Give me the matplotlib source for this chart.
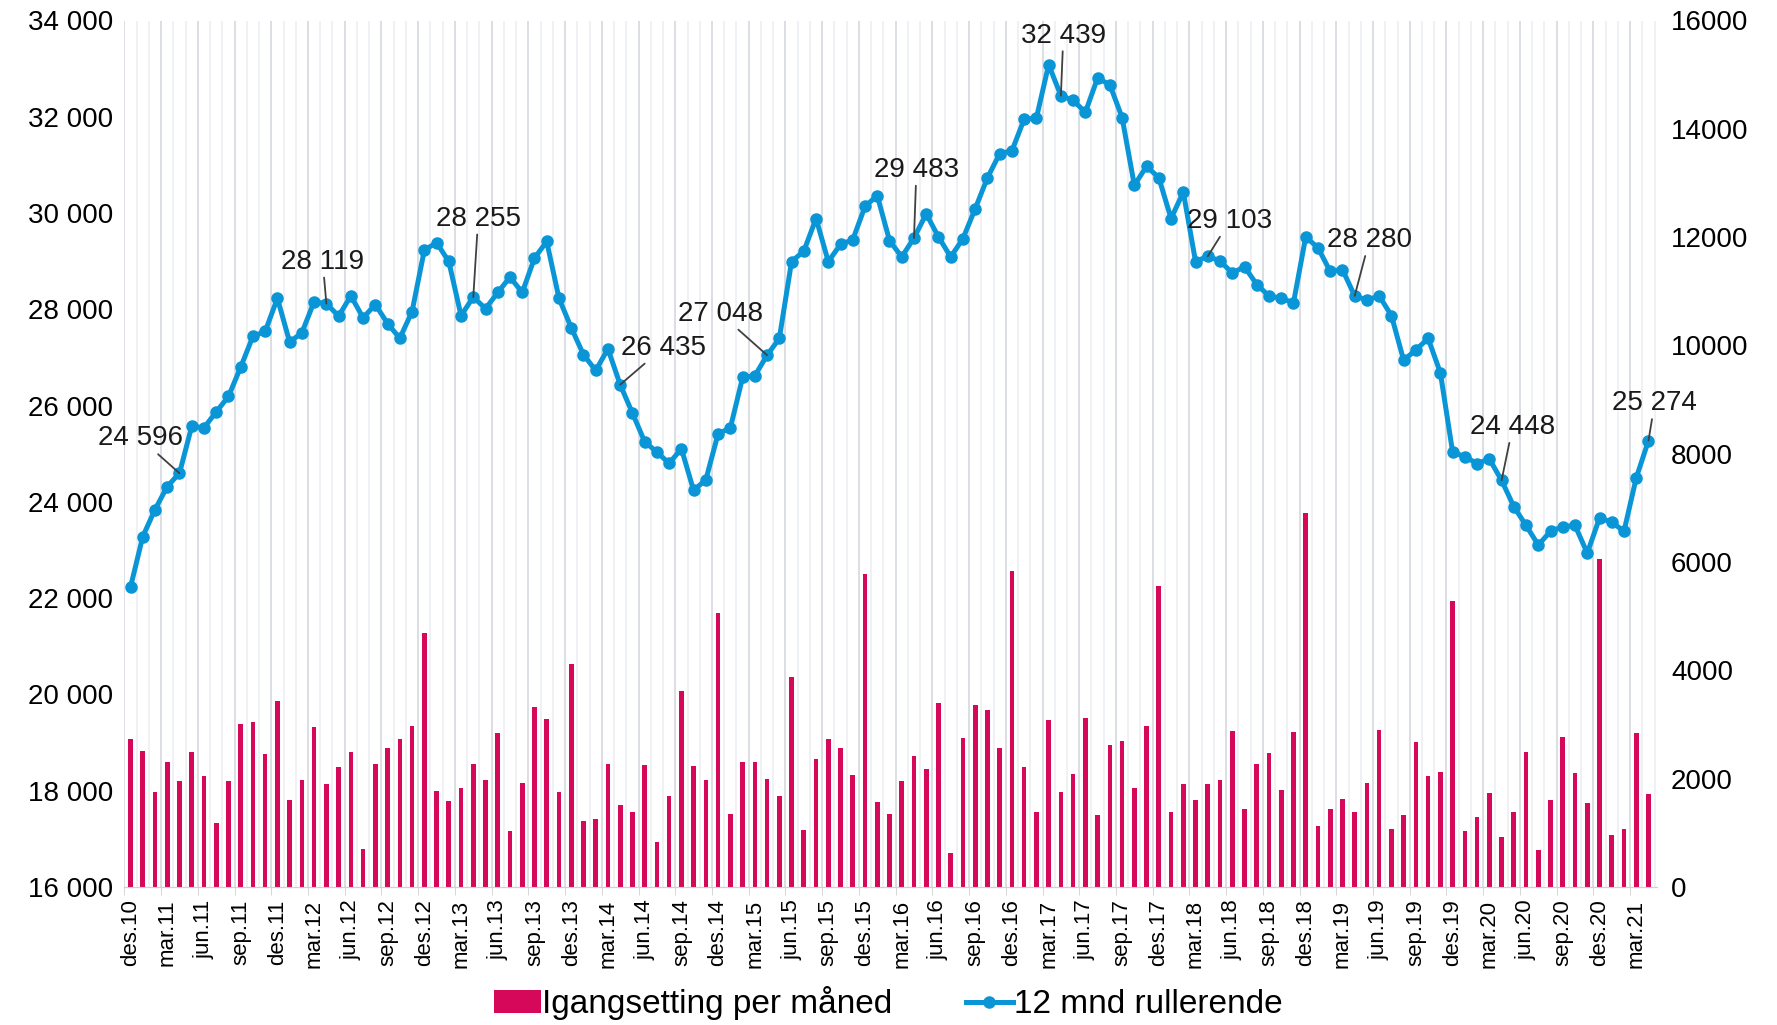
import numpy as np
import matplotlib
matplotlib.use("Agg")
import matplotlib.pyplot as plt
from matplotlib.ticker import FuncFormatter, MultipleLocator

plt.rcParams['font.family'] = ['Liberation Sans', 'DejaVu Sans']

# months des.10 .. apr.21
month_names = ['jan', 'feb', 'mar', 'apr', 'mai', 'jun', 'jul', 'aug', 'sep', 'okt', 'nov', 'des']
months = ['des.10'] + ['%s.%02d' % (m, y) for y in range(11, 21) for m in month_names] + \
         ['jan.21', 'feb.21', 'mar.21', 'apr.21']

# 12 mnd rullerende (left axis)
rolling = [22230, 23280, 23840, 24320, 24596, 25570, 25540, 25870, 26190, 26800, 27440, 27540, 28230,
           27320, 27515, 28160, 28119, 27860, 28280, 27825, 28100, 27705, 27400, 27955, 29230,
           29385, 28995, 27870, 28255, 28015, 28350, 28670, 28350, 29065, 29410, 28230, 27620,
           27060, 26730, 27180, 26435, 25846, 25250, 25035, 24800, 25107, 24237, 24463, 25417,
           25536, 26585, 26621, 27048, 27396, 28993, 29208, 29887, 28993, 29350, 29446, 30137,
           30364, 29430, 29088, 29483, 29982, 29505, 29088, 29470, 30090, 30733, 31234, 31294,
           31949, 31973, 33081, 32439, 32343, 32093, 32808, 32664, 31985, 30578, 30972, 30733,
           29887, 30436, 28993, 29103, 29005, 28754, 28886, 28516, 28278, 28230, 28135, 29505,
           29279, 28790, 28826, 28280, 28194, 28278, 27872, 26943, 27157, 27396, 26681, 25035,
           24940, 24797, 24892, 24448, 23903, 23510, 23105, 23390, 23486, 23510, 22937, 23665,
           23581, 23390, 24499, 25274]

# igangsetting per måned (right axis)
monthly = [2735, 2520, 1750, 2310, 1950, 2500, 2045, 1175, 1950, 3010, 3055, 2460, 3435,
           1610, 1970, 2950, 1910, 2225, 2500, 710, 2265, 2575, 2725, 2980, 4695,
           1770, 1590, 1835, 2280, 1980, 2840, 1040, 1930, 3330, 3095, 1750, 4115,
           1220, 1250, 2280, 1515, 1380, 2260, 830, 1675, 3615, 2240, 1970, 5065,
           1345, 2310, 2310, 1995, 1675, 3880, 1050, 2365, 2735, 2575, 2065, 5775,
           1570, 1357, 1950, 2415, 2185, 3405, 625, 2755, 3370, 3265, 2565, 5830,
           2225, 1380, 3075, 1750, 2080, 3125, 1335, 2630, 2690, 1835, 2980, 5565,
           1380, 1910, 1610, 1910, 1980, 2885, 1450, 2270, 2480, 1800, 2860, 6910,
           1135, 1450, 1630, 1380, 1930, 2905, 1080, 1335, 2670, 2055, 2130, 5280,
           1040, 1295, 1740, 920, 1380, 2500, 690, 1610, 2775, 2100, 1560, 6065,
           955, 1080, 2840, 1715]

# labelled points (every april) and where the labels sit
label_idx = [4, 16, 28, 40, 52, 64, 76, 88, 100, 112, 124]
label_pos = [(0.8, 25318), (15.7, 28988), (28.4, 29883), (43.5, 27200), (48.2, 27906),
             (64.2, 30895), (76.2, 33688), (89.8, 29836), (101.2, 29436), (112.9, 25553),
             (124.5, 26047)]

blue = '#0a96d6'
pink = '#d6085a'

x = np.arange(len(months))

fig = plt.figure(figsize=(17.77, 10.25), dpi=100)
ax = fig.add_axes([0.070, 0.1346, 0.8625, 0.8454])
ax2 = ax.twinx()

# bars on the right axis, drawn underneath the line
bars = ax2.bar(x, monthly, width=0.38, color=pink, zorder=3)
for b in np.arange(-0.5, len(months), 1):
    major = (b + 0.5) % 3 == 0
    ax2.axvline(b, color='#d8dce2' if major else '#eef0f3', lw=1.3, zorder=0)

line, = ax.plot(x, rolling, color=blue, lw=3.6, marker='o', ms=8, zorder=4)
ax.set_zorder(ax2.get_zorder() + 1)
ax.patch.set_visible(False)

for i, (tx, ty) in zip(label_idx, label_pos):
    ax.annotate(f"{rolling[i]:,}".replace(",", " "), xy=(i, rolling[i]), xytext=(tx, ty),
                ha='center', va='center', fontsize=20, color='#1a1a1a', zorder=6,
                arrowprops=dict(arrowstyle='-', color='#404040', lw=1.3, shrinkA=0, shrinkB=0))

ax.set_xlim(-0.5, 124.7)
ax.set_ylim(16000, 34000)
ax2.set_ylim(0, 16000)
ax.yaxis.set_major_locator(MultipleLocator(2000))
ax2.yaxis.set_major_locator(MultipleLocator(2000))
ax.yaxis.set_major_formatter(FuncFormatter(lambda v, p: f"{int(v):,}".replace(",", " ")))

ax.set_xticks(x[::3])
ax.set_xticklabels(months[::3], rotation=90, fontsize=16)
ax.set_xticks(np.arange(-0.5, len(months), 3), minor=True)
ax.tick_params(axis='x', which='major', length=0, pad=9)
ax.tick_params(axis='x', which='minor', length=6, color='#d0d0d0')
ax.tick_params(axis='y', length=0, labelsize=20, pad=8)
ax2.tick_params(axis='y', length=0, labelsize=20, pad=10)

for a in (ax, ax2):
    for s in ['top', 'left', 'right']:
        a.spines[s].set_visible(False)
    a.spines['bottom'].set_color('#d0d0d0')

fig.legend([bars, line], ['Igangsetting per måned', '12 mnd rullerende'],
           loc='center', bbox_to_anchor=(0.5, 0.021), ncol=2, frameon=False,
           fontsize=24, handlelength=1.4, handletextpad=0.05, columnspacing=2.2)

fig.savefig('out.png', dpi=100)
